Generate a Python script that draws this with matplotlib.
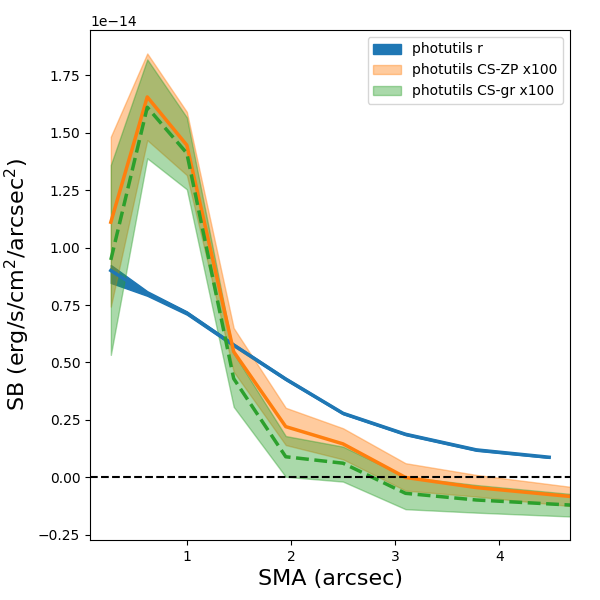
import numpy as np
import matplotlib
matplotlib.use("Agg")
import matplotlib.pyplot as plt

# SMA values (arcsec)
sma_r = [0.27, 0.62, 1.0, 1.45, 1.95, 2.5, 3.1, 3.78, 4.48]
sma_cs = [0.27, 0.62, 1.0, 1.45, 1.95, 2.5, 3.1, 3.78, 4.48, 5.3]

# photutils r (units of 1e-14)
r_mid = [0.90, 0.80, 0.715, 0.576, 0.428, 0.279, 0.188, 0.12, 0.088]
r_hi = [0.924, 0.81, 0.722, 0.582, 0.433, 0.283, 0.192, 0.124, 0.091]
r_lo = [0.846, 0.79, 0.708, 0.570, 0.423, 0.275, 0.184, 0.116, 0.085]

# photutils CS-ZP x100
zp_mid = [1.11, 1.655, 1.445, 0.547, 0.221, 0.146, 0.0, -0.044, -0.074, -0.109]
zp_hi = [1.482, 1.844, 1.59, 0.65, 0.303, 0.214, 0.062, 0.011, -0.029, -0.076]
zp_lo = [0.743, 1.467, 1.315, 0.46, 0.141, 0.079, -0.057, -0.083, -0.115, -0.153]

# photutils CS-gr x100
gr_mid = [0.946, 1.61, 1.41, 0.43, 0.09, 0.062, -0.069, -0.098, -0.115, -0.135]
gr_hi = [1.359, 1.818, 1.566, 0.54, 0.18, 0.134, 0.003, -0.033, -0.063, -0.098]
gr_lo = [0.533, 1.388, 1.253, 0.307, 0.003, -0.018, -0.138, -0.153, -0.166, -0.181]

scale = 1e-14

fig, ax = plt.subplots(figsize=(6, 6), dpi=100)
fig.subplots_adjust(left=0.15, right=0.95, bottom=0.1, top=0.95)

ax.fill_between(sma_r, np.array(r_lo) * scale, np.array(r_hi) * scale,
                color="C0", alpha=1.0, label="photutils r")
ax.plot(sma_r, np.array(r_mid) * scale, color="C0", lw=2.5)

ax.fill_between(sma_cs, np.array(zp_lo) * scale, np.array(zp_hi) * scale,
                color="C1", alpha=0.4, label="photutils CS-ZP x100")
ax.plot(sma_cs, np.array(zp_mid) * scale, color="C1", lw=2.5)

ax.fill_between(sma_cs, np.array(gr_lo) * scale, np.array(gr_hi) * scale,
                color="C2", alpha=0.4, label="photutils CS-gr x100")
ax.plot(sma_cs, np.array(gr_mid) * scale, color="C2", lw=2.5, ls="--")

ax.axhline(0, color="k", ls="--", lw=1.5)

ax.set_xlim(0.07, 4.68)
ax.set_ylim(-0.272e-14, 1.946e-14)
ax.set_xticks([1, 2, 3, 4])
ax.set_xlabel("SMA (arcsec)", fontsize=16)
ax.set_ylabel("SB (erg/s/cm$^2$/arcsec$^2$)", fontsize=16)
ax.legend(loc="upper right")

plt.savefig("out.png")
